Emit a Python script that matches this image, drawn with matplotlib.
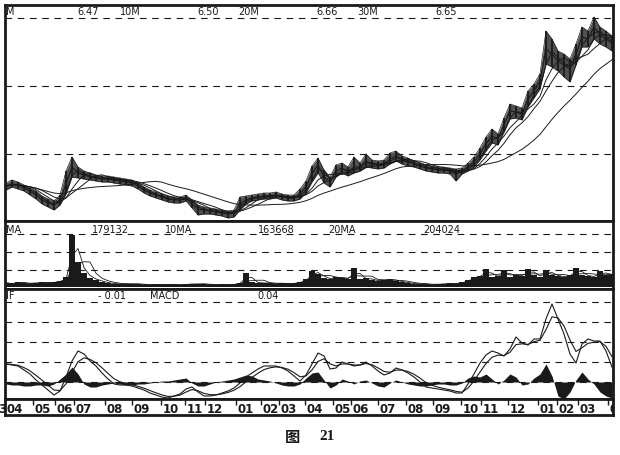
import numpy as np
import pandas as pd
import matplotlib
matplotlib.use("Agg")
import matplotlib.pyplot as plt

# ---------------- data (one sample ~ one trading week) ----------------
price_close = [3.5, 3.7, 3.6, 3.3, 3.0, 2.6, 2.1, 1.8, 1.6, 2.1,
               3.7, 5.4, 4.8, 4.6, 4.4, 4.3, 4.2, 4.2, 4.1, 4.0,
               3.9, 3.8, 3.5, 3.1, 2.8, 2.6, 2.4, 2.2, 2.1, 2.1,
               2.3, 1.7, 1.2, 1.1, 1.0, 0.9, 0.8, 0.7, 0.8, 1.7,
               2.1, 2.3, 2.4, 2.5, 2.5, 2.6, 2.4, 2.3, 2.3, 2.7,
               3.4, 4.7, 5.6, 4.4, 3.9, 5.0, 5.3, 4.9, 5.4, 5.4,
               6.0, 5.7, 5.6, 5.7, 6.2, 6.5, 6.1, 5.9, 5.7, 5.5,
               5.3, 5.2, 5.1, 5.1, 5.0, 4.7, 5.0, 5.4, 5.9, 6.7,
               7.7, 8.5, 8.2, 9.6, 11.0, 10.9, 10.7, 12.2, 13.0, 14.0,
               17.2, 16.7, 16.0, 15.6, 15.2, 16.7, 18.4, 18.2, 19.4, 18.6,
               18.2, 17.8]
price_high = [3.8, 4.1, 3.9, 3.6, 3.3, 3.0, 2.5, 2.2, 2.0, 2.6,
              5.0, 6.4, 5.4, 5.0, 4.8, 4.6, 4.5, 4.5, 4.4, 4.3,
              4.2, 4.1, 3.8, 3.4, 3.1, 2.9, 2.7, 2.5, 2.4, 2.4,
              2.6, 2.1, 1.6, 1.4, 1.3, 1.2, 1.1, 1.0, 1.1, 2.4,
              2.5, 2.6, 2.7, 2.8, 2.8, 2.9, 2.7, 2.6, 2.6, 3.2,
              4.0, 5.5, 6.3, 5.1, 4.4, 5.6, 5.8, 5.4, 6.4, 5.8,
              6.7, 6.1, 6.0, 6.1, 6.8, 7.0, 6.5, 6.3, 6.0, 5.8,
              5.6, 5.5, 5.4, 5.4, 5.3, 5.2, 5.3, 5.8, 6.4, 7.3,
              8.4, 9.2, 8.7, 10.3, 11.7, 11.5, 11.3, 13.0, 13.7, 14.7,
              19.0, 18.2, 17.0, 16.7, 16.2, 17.7, 19.4, 19.0, 20.4, 19.4,
              19.0, 18.5]
price_low = [3.1, 3.4, 3.2, 3.0, 2.6, 2.2, 1.7, 1.4, 1.1, 1.6,
             2.7, 4.4, 4.3, 4.2, 4.1, 4.0, 3.9, 3.9, 3.8, 3.7,
             3.6, 3.5, 3.2, 2.8, 2.5, 2.3, 2.1, 1.9, 1.8, 1.8,
             2.0, 1.3, 0.6, 0.7, 0.7, 0.6, 0.5, 0.3, 0.4, 1.1,
             1.7, 2.0, 2.1, 2.2, 2.2, 2.3, 2.1, 2.0, 2.0, 2.2,
             2.8, 3.9, 4.8, 3.8, 3.4, 4.4, 4.8, 4.5, 4.8, 5.0,
             5.4, 5.3, 5.2, 5.3, 5.7, 6.0, 5.7, 5.5, 5.4, 5.2,
             5.0, 4.9, 4.8, 4.8, 4.7, 4.0, 4.7, 5.0, 5.4, 6.1,
             7.0, 7.8, 7.6, 8.9, 10.2, 10.3, 10.1, 11.4, 12.3, 13.2,
             15.7, 15.4, 15.0, 14.4, 13.9, 15.6, 17.4, 17.4, 18.2, 17.7,
             17.4, 17.0]
volume_k = [20, 15, 25, 20, 15, 20, 25, 20, 25, 30,
            50, 260, 125, 70, 45, 35, 25, 20, 15, 15,
            15, 15, 15, 10, 10, 15, 10, 15, 10, 10,
            15, 15, 15, 15, 10, 10, 15, 10, 15, 20,
            70, 25, 20, 20, 20, 15, 20, 15, 20, 25,
            40, 80, 65, 45, 40, 50, 45, 40, 95, 40,
            45, 35, 30, 35, 40, 30, 25, 20, 15, 15,
            15, 10, 15, 15, 20, 15, 25, 35, 50, 55,
            90, 50, 55, 85, 50, 60, 55, 90, 60, 50,
            85, 60, 55, 50, 60, 95, 60, 55, 50, 80,
            60, 65]
dif = [0.09, 0.085, 0.08, 0.06, 0.04, 0.01, -0.015, -0.04, -0.065, -0.045,
       0.025, 0.105, 0.155, 0.14, 0.105, 0.08, 0.045, 0.015, -0.01, -0.015,
       -0.015, -0.02, -0.03, -0.04, -0.055, -0.065, -0.075, -0.08, -0.07, -0.06,
       -0.035, -0.025, -0.05, -0.07, -0.07, -0.065, -0.055, -0.045, -0.03, -0.005,
       0.025, 0.045, 0.065, 0.08, 0.08, 0.08, 0.07, 0.055, 0.03, 0.005,
       0.035, 0.09, 0.145, 0.13, 0.065, 0.07, 0.1, 0.09, 0.08, 0.085,
       0.1, 0.08, 0.055, 0.035, 0.045, 0.07, 0.06, 0.045, 0.025, 0.0,
       -0.025, -0.03, -0.035, -0.04, -0.045, -0.055, -0.055, -0.01, 0.04, 0.095,
       0.135, 0.155, 0.145, 0.13, 0.165, 0.225, 0.195, 0.185, 0.215, 0.215,
       0.315, 0.39, 0.315, 0.24, 0.14, 0.095, 0.19, 0.215, 0.205, 0.205,
       0.155, 0.075]
macd_hist = [-0.010, -0.015, -0.015, -0.020, -0.020, -0.015, -0.015, -0.020, -0.010, 0.015,
             0.040, 0.075, 0.040, -0.010, -0.025, -0.025, -0.015, -0.010, -0.005, -0.010,
             -0.015, -0.015, -0.010, -0.010, -0.005, 0.000, 0.005, 0.005, 0.010, 0.015,
             0.020, -0.005, -0.020, -0.020, -0.010, 0.000, 0.005, 0.010, 0.015, 0.025,
             0.035, 0.030, 0.015, 0.010, 0.005, -0.005, -0.015, -0.020, -0.020, -0.010,
             0.020, 0.045, 0.050, 0.010, -0.030, -0.015, 0.015, 0.005, -0.010, 0.005,
             0.010, -0.005, -0.020, -0.025, -0.005, 0.010, 0.000, -0.010, -0.015, -0.020,
             -0.020, -0.015, -0.010, -0.010, -0.015, -0.015, -0.005, 0.020, 0.030, 0.025,
             0.040, 0.015, -0.010, 0.010, 0.040, 0.025, -0.015, -0.010, 0.020, 0.040,
             0.090, 0.030, -0.070, -0.085, -0.050, 0.010, 0.050, 0.015, -0.010, -0.050,
             -0.070, -0.080]

month_labels = ["03", "04", "05", "06", "07", "08", "09", "10", "11", "12", "01", "02", "03",
                "04", "05", "06", "07", "08", "09", "10", "11", "12", "01", "02", "03", "04"]
month_pos = [-2.75, -0.17, 4.5, 8.17, 11.33, 16.5, 21.0, 25.83, 29.83, 33.17, 38.33, 42.5, 45.5,
             49.83, 54.5, 57.5, 62.0, 66.67, 71.17, 75.83, 79.17, 83.67, 88.67, 91.83, 95.33, 100.33]

price_header = [("M", 6), ("6.47", 77), ("10M", 120), ("6.50", 197), ("20M", 238),
                ("6.66", 316), ("30M", 357), ("6.65", 435)]
vol_header = [("MA", 6), ("179132", 92), ("10MA", 165), ("163668", 258),
              ("20MA", 328), ("204024", 423)]
macd_header = [("IF", 6), ("- 0.01", 98), ("MACD", 150), ("0.04", 257)]

ma_windows = [2, 4, 6, 16]
vol_ma_windows = [2, 4]

# ---------------- figure ----------------
W, H = 620, 456
fig = plt.figure(figsize=(W / 100, H / 100), dpi=100)
fig.patch.set_facecolor("white")
INK = "#1a1a1a"


def add_ax(top_px, bottom_px):
    return fig.add_axes([5 / W, 1 - bottom_px / H, 608 / W, (bottom_px - top_px) / H])


x = np.arange(len(price_close))
xlim = (-0.17, 101.17)
dash = (0, (6, 5))

ax_p = add_ax(6, 222)
ax_v = add_ax(222, 290)
ax_m = add_ax(290, 400)
ax_d = add_ax(400, 416)

for ax in (ax_p, ax_v, ax_m, ax_d):
    ax.set_xticks([])
    ax.set_yticks([])
    for s in ax.spines.values():
        s.set_linewidth(2.0)
        s.set_color(INK)

# price panel
ax_p.set_ylim(0, 21.6)
for g in [6.7, 13.5, 20.3]:
    ax_p.axhline(g, color=INK, lw=0.8, ls=dash)
close = pd.Series(price_close)
ax_p.fill_between(x, price_low, price_high, color="#505050", lw=0)
ax_p.vlines(x, price_low, price_high, color=INK, lw=1.3)
ax_p.plot(x, price_high, color=INK, lw=0.5)
ax_p.plot(x, price_low, color=INK, lw=0.5)
ax_p.plot(x, close, color=INK, lw=0.8)
for w in ma_windows:
    ax_p.plot(x, close.rolling(w, min_periods=1).mean(), color=INK, lw=0.7)

# volume panel
ax_v.set_ylim(-10, 330)
for g in [85, 175, 265]:
    ax_v.axhline(g, color=INK, lw=0.8, ls=dash)
ax_v.bar(x, volume_k, width=1.0, color=INK, lw=0)
vol = pd.Series(volume_k)
for w in vol_ma_windows:
    ax_v.plot(x, vol.rolling(w, min_periods=1).mean(), color=INK, lw=0.6)

# MACD panel
ax_m.set_ylim(-0.085, 0.465)
for g in [0.0, 0.1, 0.2, 0.3, 0.4]:
    ax_m.axhline(g, color=INK, lw=0.8, ls=dash)
ax_m.fill_between(x, 0, macd_hist, color=INK, lw=0)
dif_s = pd.Series(dif)
dea = dif_s.ewm(span=3, adjust=False).mean()
ax_m.plot(x, dif_s, color=INK, lw=0.8)
ax_m.plot(x, dea, color=INK, lw=0.8)

# date strip
ax_d.set_ylim(0, 1)
ax_d.set_xticks(month_pos)
ax_d.set_xticklabels([])
ax_d.tick_params(axis="x", top=True, bottom=False, direction="in", length=4, width=1.0,
                 labeltop=False, labelbottom=False, color=INK)
for i, (lab, pos) in enumerate(zip(month_labels, month_pos)):
    ax_d.text(pos + 0.25, 0.42, lab, ha="left", va="center", fontsize=8.5, fontweight="bold",
              family=["Liberation Sans Narrow", "DejaVu Sans"], color=INK,
              clip_on=(i == len(month_labels) - 1))

for ax in (ax_p, ax_v, ax_m, ax_d):
    ax.set_xlim(*xlim)


def px_text(items, y_px, size=7):
    for lab, xp in items:
        fig.text(xp / W, 1 - y_px / H, lab, ha="left", va="center", fontsize=size,
                 family="DejaVu Sans", color=INK)


px_text(price_header, 12)
px_text(vol_header, 230)
px_text(macd_header, 296)

# caption
fig.text(292 / W, 1 - 437 / H, "图", ha="center", va="center", fontsize=11, fontweight="bold",
         family=["Noto Sans CJK SC", "DejaVu Sans"], color=INK)
fig.text(327 / W, 1 - 437 / H, "21", ha="center", va="center", fontsize=11, fontweight="bold",
         family=["Liberation Serif", "DejaVu Serif"], color=INK)

fig.savefig("out.png", dpi=100, facecolor="white")
